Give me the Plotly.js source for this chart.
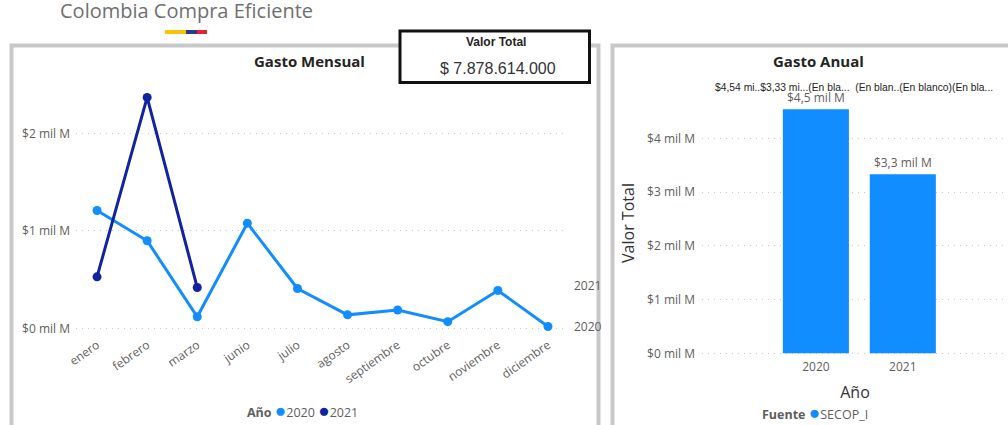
<!DOCTYPE html>
<html>
<head>
<meta charset="utf-8">
<script src="https://cdn.plot.ly/plotly-3.0.1.min.js"></script>
<style>
html,body{margin:0;padding:0;background:#fff;overflow:hidden;}
#chart{width:1008px;height:425px;}
</style>
</head>
<body>
<div id="chart"></div>
<script>
// ---- data (values in "mil M" = miles de millones de pesos) ----
const meses = ['enero','febrero','marzo','junio','julio','agosto','septiembre','octubre','noviembre','diciembre'];
const gasto2020 = [1.21, 0.90, 0.12, 1.08, 0.41, 0.14, 0.19, 0.07, 0.39, 0.02];
const meses2021 = ['enero','febrero','marzo'];
const gasto2021 = [0.53, 2.37, 0.42];
const anios = ['2020','2021'];
const valorAnual = [4.54, 3.33];
const valorTotalTexto = '$ 7.878.614.000';
const lineTicks = [0, 1, 2];
const barTicks = [0, 1, 2, 3, 4];

const W = 1008, H = 425;
const px = v => v / W;
const py = v => 1 - v / H;
const FONT = '"Segoe UI", "Open Sans", sans-serif';
const ARIAL = '"Liberation Sans", Arial, sans-serif';
const C20 = '#118DFF', C21 = '#12239E';
const GREY = '#605E5C';

const traces = [
  {x: meses, y: gasto2020, type: 'scatter', mode: 'lines+markers', name: '2020',
   line: {color: C20, width: 3}, marker: {color: C20, size: 9}, xaxis: 'x', yaxis: 'y', showlegend: false, cliponaxis: false},
  {x: meses2021, y: gasto2021, type: 'scatter', mode: 'lines+markers', name: '2021',
   line: {color: C21, width: 3}, marker: {color: C21, size: 9}, xaxis: 'x', yaxis: 'y', showlegend: false, cliponaxis: false},
  {x: anios, y: valorAnual, type: 'bar', name: 'SECOP_I', marker: {color: C20},
   texttemplate: '$%{y:.1f} mil M', textposition: 'outside', cliponaxis: false,
   textfont: {family: FONT, size: 12, color: GREY},
   xaxis: 'x2', yaxis: 'y2', showlegend: false}
];

const gridDash = '1px,5px';
const layout = {
  width: W, height: H,
  margin: {l: 0, r: 0, t: 0, b: 0},
  paper_bgcolor: '#fff', plot_bgcolor: 'rgba(0,0,0,0)',
  separators: ',.',
  font: {family: FONT, color: GREY, size: 12},
  showlegend: false,
  bargap: 0.24,
  xaxis: {domain: [px(76), px(566)], range: [-0.42, 9.36], type: 'category',
    tickangle: -35, tickfont: {size: 12, color: GREY}, showgrid: false, zeroline: false,
    showline: false, ticks: '', fixedrange: true},
  yaxis: {domain: [py(335), py(90)], range: [-0.0667, 2.446],
    tickvals: lineTicks, ticktext: lineTicks.map(v => '$' + v + ' mil M'),
    tickfont: {size: 12, color: GREY}, showgrid: true, gridcolor: '#c8c8c8', griddash: gridDash,
    zeroline: false, showline: false, ticks: '', ticklabelstandoff: 5},
  xaxis2: {domain: [px(702), 1], range: [-1.31, 2.21], type: 'category', anchor: 'y2',
    tickfont: {size: 12, color: GREY}, showgrid: false, zeroline: false, showline: false, ticks: '',
    ticklabelstandoff: 2,
    title: {text: 'Año', font: {size: 16, color: '#333'}, standoff: 12}},
  yaxis2: {domain: [py(356), py(90)], range: [-0.05, 4.899], anchor: 'x2',
    tickvals: barTicks, ticktext: barTicks.map(v => '$' + v + ' mil M'),
    tickfont: {size: 12, color: GREY}, showgrid: true, gridcolor: '#c8c8c8', griddash: gridDash,
    zeroline: false, showline: false, ticks: '', ticklabelstandoff: 6,
    title: {text: 'Valor Total', font: {size: 16, color: '#333'}, standoff: 8}},
  shapes: [
    // Colombian flag bar
    {type: 'rect', xref: 'paper', yref: 'paper', x0: px(165), x1: px(186), y0: py(34), y1: py(30), fillcolor: '#F5C400', line: {width: 0}},
    {type: 'rect', xref: 'paper', yref: 'paper', x0: px(186), x1: px(197), y0: py(34), y1: py(30), fillcolor: '#2B3990', line: {width: 0}},
    {type: 'rect', xref: 'paper', yref: 'paper', x0: px(197), x1: px(207), y0: py(34), y1: py(30), fillcolor: '#E0223A', line: {width: 0}},
    // panel frames
    {type: 'rect', xref: 'paper', yref: 'paper', x0: px(11.5), x1: px(598.5), y0: py(445), y1: py(45.5), line: {color: '#c8c8c8', width: 4}},
    {type: 'rect', xref: 'paper', yref: 'paper', x0: px(612.5), x1: px(1030), y0: py(445), y1: py(45.5), line: {color: '#c8c8c8', width: 4}},
    // card
    {type: 'rect', xref: 'paper', yref: 'paper', x0: px(400), x1: px(589.5), y0: py(82.5), y1: py(31), fillcolor: '#fff', line: {color: '#111', width: 3}}
  ],
  annotations: [
    {text: 'Colombia Compra Eficiente', xref: 'paper', yref: 'paper', x: px(186), y: py(11), xanchor: 'center', yanchor: 'middle',
     showarrow: false, font: {family: FONT, size: 20, color: '#6f6f6f'}},
    {text: '<b>Gasto Mensual</b>', xref: 'paper', yref: 'paper', x: px(309), y: py(61), xanchor: 'center', yanchor: 'middle',
     showarrow: false, font: {family: FONT, size: 15, color: '#252423'}},
    {text: '<b>Gasto Anual</b>', xref: 'paper', yref: 'paper', x: px(818), y: py(61), xanchor: 'center', yanchor: 'middle',
     showarrow: false, font: {family: FONT, size: 15, color: '#252423'}},
    {text: '<b>Valor Total</b>', xref: 'paper', yref: 'paper', x: px(496), y: py(42), xanchor: 'center', yanchor: 'middle',
     showarrow: false, font: {family: ARIAL, size: 12, color: '#252423'}},
    {text: valorTotalTexto, xref: 'paper', yref: 'paper', x: px(498), y: py(68), xanchor: 'center', yanchor: 'middle',
     showarrow: false, font: {family: ARIAL, size: 16, color: '#333'}},
    {text: '$4,54 mi..$3,33 mi...(En bla...  (En blan..(En blanco)(En bla...', xref: 'paper', yref: 'paper', x: px(713), y: py(87),
     xanchor: 'left', yanchor: 'middle', showarrow: false, font: {family: ARIAL, size: 10.3, color: '#252423'}},
    // series end labels
    {text: '2021', xref: 'paper', yref: 'y', x: px(572), y: gasto2021[gasto2021.length - 1] + 0.02, xanchor: 'left', yanchor: 'middle',
     showarrow: false, font: {family: FONT, size: 12, color: GREY}},
    {text: '2020', xref: 'paper', yref: 'y', x: px(572), y: gasto2020[gasto2020.length - 1], xanchor: 'left', yanchor: 'middle',
     showarrow: false, font: {family: FONT, size: 12, color: GREY}},
    // legends
    {text: '<b>Año</b> <span style="color:' + C20 + ';font-size:19px">●</span>2020 <span style="color:' + C21 + ';font-size:19px">●</span>2021',
     xref: 'paper', yref: 'paper', x: px(245), y: py(410), xanchor: 'left', yanchor: 'middle', showarrow: false,
     font: {family: FONT, size: 12.5, color: GREY}},
    {text: '<b>Fuente</b> <span style="color:' + C20 + ';font-size:19px">●</span>SECOP_I',
     xref: 'paper', yref: 'paper', x: px(760), y: py(412), xanchor: 'left', yanchor: 'middle', showarrow: false,
     font: {family: FONT, size: 12.5, color: GREY}}
  ]
};

Plotly.newPlot('chart', traces, layout, {staticPlot: true, displayModeBar: false});
</script>
</body>
</html>
